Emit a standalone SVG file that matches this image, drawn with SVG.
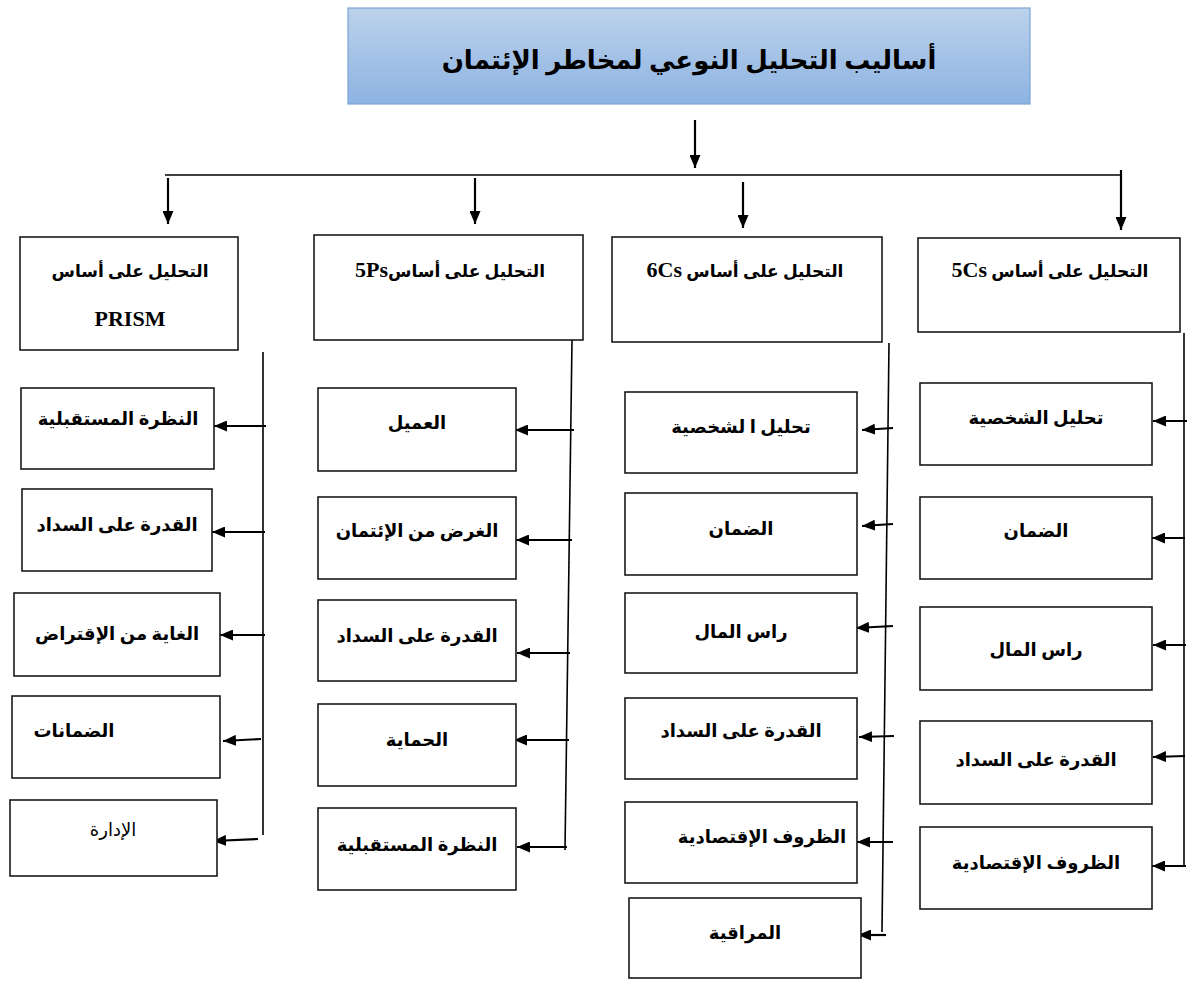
<svg xmlns="http://www.w3.org/2000/svg" width="1187" height="982" viewBox="0 0 1187 982">
  <defs>
    <linearGradient id="titleFill" x1="0" y1="0" x2="0" y2="1">
      <stop offset="0" stop-color="#bcd2eb"/>
      <stop offset="1" stop-color="#8db3e2"/>
    </linearGradient>
    <marker id="head" viewBox="0 0 13 11" refX="13" refY="5.5" markerWidth="13" markerHeight="11" markerUnits="userSpaceOnUse" orient="auto">
      <path d="M0,0 L13,5.5 L0,11 Z" fill="#000"/>
    </marker>
  </defs>
  <style>
    .box { fill: #fff; stroke: #1a1a1a; stroke-width: 1.6; }
    .title { fill: url(#titleFill); stroke: #7aa3d4; stroke-width: 1.2; }
    .lbl { font-family: "Liberation Serif", "DejaVu Sans", serif; font-weight: bold; font-size: 18px; fill: #000; text-anchor: middle; direction: rtl; }
    .hdr { font-size: 17px; }
    .lat { font-family: "Liberation Serif", serif; font-size: 22px; font-weight: bold; }
    .plain { font-weight: normal; }
    .ttl { font-size: 26px; }
    .arrow { stroke: #000; stroke-width: 2.2; fill: none; marker-end: url(#head); }
    .rail { stroke: #000; stroke-width: 1.6; fill: none; }
  </style>

  <!-- root -->
  <g id="root">
    <rect class="title" x="348" y="8" width="682" height="96"/>
    <text class="lbl ttl" x="689" y="69">أساليب التحليل  النوعي لمخاطر الإئتمان</text>
  </g>

  <!-- connectors -->
  <g id="connectors">
    <line class="arrow" x1="695" y1="120" x2="695" y2="168"/>
    <line class="rail" x1="165" y1="175" x2="1122" y2="175"/>
    <line class="arrow" x1="168" y1="178" x2="168" y2="224"/>
    <line class="arrow" x1="475" y1="178" x2="475" y2="224"/>
    <line class="arrow" x1="743" y1="182" x2="743" y2="228"/>
    <line class="arrow" x1="1121" y1="170" x2="1121" y2="230"/>

    <!-- PRISM branch -->
    <line class="rail" x1="263" y1="352" x2="263" y2="835"/>
    <line class="arrow" x1="266" y1="426" x2="214" y2="426"/>
    <line class="arrow" x1="265" y1="532" x2="212" y2="532"/>
    <line class="arrow" x1="265" y1="635" x2="220" y2="635"/>
    <line class="arrow" x1="261" y1="739" x2="223" y2="741"/>
    <line class="arrow" x1="258" y1="839" x2="213" y2="841"/>

    <!-- 5Ps branch -->
    <line class="rail" x1="572" y1="340" x2="565" y2="850"/>
    <line class="arrow" x1="574" y1="430" x2="515" y2="430"/>
    <line class="arrow" x1="572" y1="540" x2="516" y2="540"/>
    <line class="arrow" x1="570" y1="653" x2="517" y2="653"/>
    <line class="arrow" x1="569" y1="740" x2="514" y2="740"/>
    <line class="arrow" x1="567" y1="847" x2="517" y2="847"/>

    <!-- 6Cs branch -->
    <line class="rail" x1="889" y1="343" x2="882" y2="932"/>
    <line class="arrow" x1="893" y1="428" x2="862" y2="430"/>
    <line class="arrow" x1="893" y1="524" x2="862" y2="526"/>
    <line class="arrow" x1="893" y1="626" x2="856" y2="628"/>
    <line class="arrow" x1="894" y1="736" x2="859" y2="737"/>
    <line class="arrow" x1="893" y1="842" x2="857" y2="842"/>
    <line class="arrow" x1="886" y1="935" x2="858" y2="935"/>

    <!-- 5Cs branch -->
    <line class="rail" x1="1184" y1="333" x2="1184" y2="866"/>
    <line class="arrow" x1="1188" y1="421" x2="1153" y2="421"/>
    <line class="arrow" x1="1185" y1="538" x2="1152" y2="538"/>
    <line class="arrow" x1="1186" y1="645" x2="1153" y2="645"/>
    <line class="arrow" x1="1185" y1="756" x2="1153" y2="757"/>
    <line class="arrow" x1="1186" y1="866" x2="1152" y2="866"/>
  </g>

  <!-- PRISM column -->
  <g id="prism">
    <rect class="box" x="20" y="237" width="218" height="113"/>
    <text class="lbl hdr" x="130" y="277">التحليل على أساس</text>
    <text class="lat" x="130" y="326" text-anchor="middle">PRISM</text>
  </g>
  <g id="prism-1">
    <rect class="box" x="21" y="388" width="193" height="81"/>
    <text class="lbl" x="118" y="425">النظرة المستقبلية</text>
  </g>
  <g id="prism-2">
    <rect class="box" x="22" y="489" width="190" height="82"/>
    <text class="lbl" x="117" y="531">القدرة على السداد</text>
  </g>
  <g id="prism-3">
    <rect class="box" x="14" y="593" width="206" height="83"/>
    <text class="lbl" x="117" y="640">الغاية من الإقتراض</text>
  </g>
  <g id="prism-4">
    <rect class="box" x="12" y="696" width="208" height="82"/>
    <text class="lbl" x="74" y="737">الضمانات</text>
  </g>
  <g id="prism-5">
    <rect class="box" x="10" y="800" width="207" height="76"/>
    <text class="lbl plain" x="113" y="836">الإدارة</text>
  </g>

  <!-- 5Ps column -->
  <g id="fiveps">
    <rect class="box" x="314" y="235" width="269" height="105"/>
    <text class="lbl hdr" x="450" y="277"><tspan>التحليل على أساس</tspan><tspan class="lat" font-size="20">5Ps</tspan></text>
  </g>
  <g id="fiveps-1">
    <rect class="box" x="318" y="388" width="198" height="83"/>
    <text class="lbl" x="417" y="429">العميل</text>
  </g>
  <g id="fiveps-2">
    <rect class="box" x="318" y="497" width="198" height="82"/>
    <text class="lbl" x="417" y="537">الغرض من الإئتمان</text>
  </g>
  <g id="fiveps-3">
    <rect class="box" x="318" y="600" width="198" height="81"/>
    <text class="lbl" x="417" y="642">القدرة على السداد</text>
  </g>
  <g id="fiveps-4">
    <rect class="box" x="318" y="704" width="198" height="82"/>
    <text class="lbl" x="417" y="746">الحماية</text>
  </g>
  <g id="fiveps-5">
    <rect class="box" x="318" y="808" width="198" height="82"/>
    <text class="lbl" x="417" y="851">النظرة المستقبلية</text>
  </g>

  <!-- 6Cs column -->
  <g id="sixcs">
    <rect class="box" x="612" y="237" width="270" height="105"/>
    <text class="lbl hdr" x="745" y="277"><tspan>التحليل على أساس </tspan><tspan class="lat" font-size="20">6Cs</tspan></text>
  </g>
  <g id="sixcs-1">
    <rect class="box" x="625" y="392" width="232" height="81"/>
    <text class="lbl" x="741" y="433">تحليل ا لشخصية</text>
  </g>
  <g id="sixcs-2">
    <rect class="box" x="625" y="493" width="232" height="82"/>
    <text class="lbl" x="741" y="535">الضمان</text>
  </g>
  <g id="sixcs-3">
    <rect class="box" x="625" y="593" width="232" height="80"/>
    <text class="lbl" x="741" y="638">راس المال</text>
  </g>
  <g id="sixcs-4">
    <rect class="box" x="625" y="698" width="232" height="81"/>
    <text class="lbl" x="741" y="737">القدرة على السداد</text>
  </g>
  <g id="sixcs-5">
    <rect class="box" x="625" y="802" width="232" height="81"/>
    <text class="lbl" x="762" y="843">الظروف الإقتصادية</text>
  </g>
  <g id="sixcs-6">
    <rect class="box" x="629" y="898" width="232" height="80"/>
    <text class="lbl" x="745" y="939">المراقية</text>
  </g>

  <!-- 5Cs column -->
  <g id="fivecs">
    <rect class="box" x="918" y="238" width="262" height="94"/>
    <text class="lbl hdr" x="1050" y="277"><tspan>التحليل على أساس </tspan><tspan class="lat" font-size="20">5Cs</tspan></text>
  </g>
  <g id="fivecs-1">
    <rect class="box" x="920" y="383" width="232" height="82"/>
    <text class="lbl" x="1036" y="424">تحليل الشخصية</text>
  </g>
  <g id="fivecs-2">
    <rect class="box" x="920" y="497" width="232" height="82"/>
    <text class="lbl" x="1036" y="537">الضمان</text>
  </g>
  <g id="fivecs-3">
    <rect class="box" x="920" y="607" width="232" height="83"/>
    <text class="lbl" x="1036" y="656">راس المال</text>
  </g>
  <g id="fivecs-4">
    <rect class="box" x="920" y="721" width="232" height="83"/>
    <text class="lbl" x="1036" y="766">القدرة على السداد</text>
  </g>
  <g id="fivecs-5">
    <rect class="box" x="920" y="827" width="232" height="82"/>
    <text class="lbl" x="1036" y="869">الظروف الإقتصادية</text>
  </g>
</svg>
